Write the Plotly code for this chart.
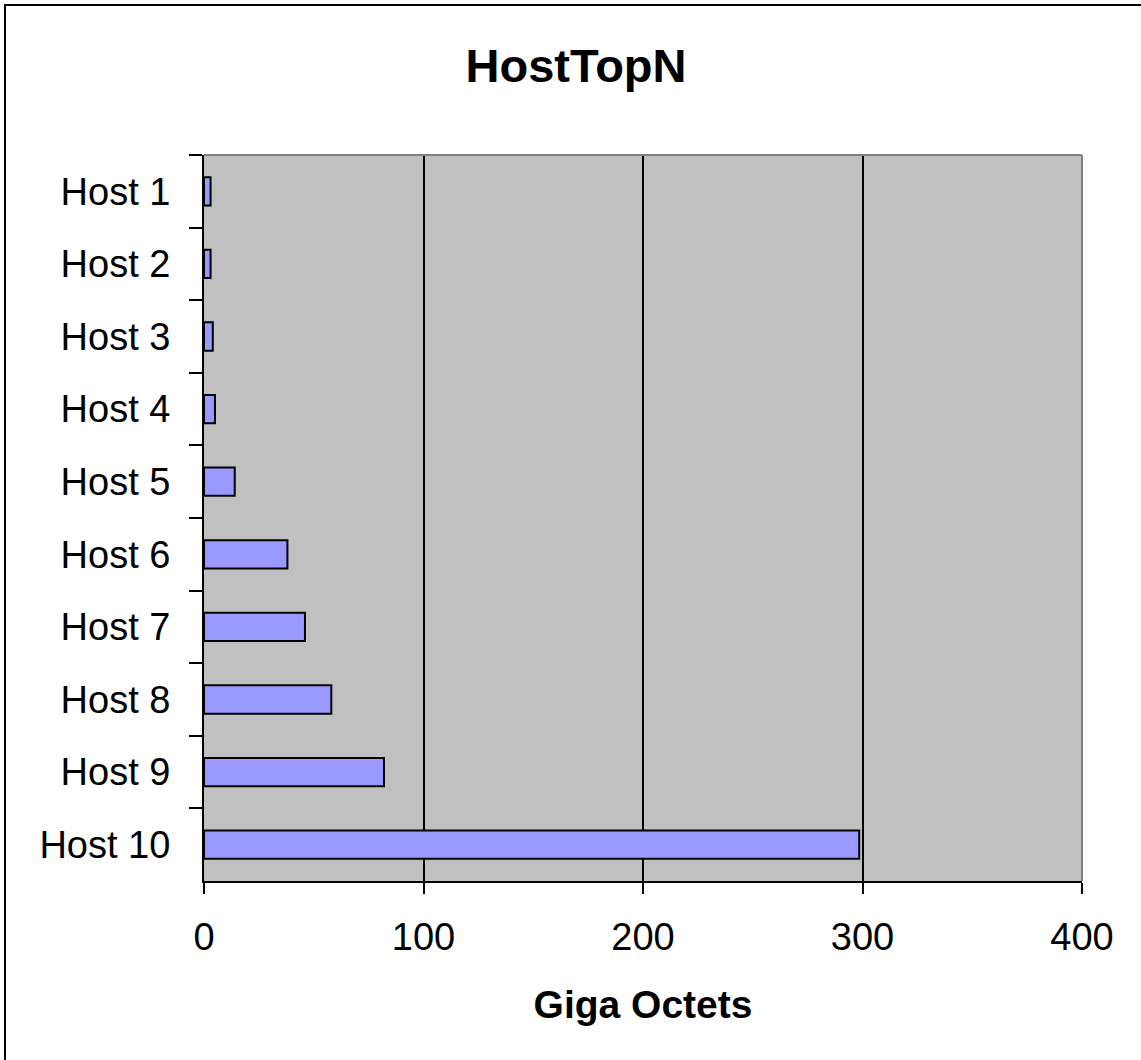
import plotly.graph_objects as go

hosts = ["Host 1", "Host 2", "Host 3", "Host 4", "Host 5",
         "Host 6", "Host 7", "Host 8", "Host 9", "Host 10"]
giga_octets = [3, 3, 4, 5, 14, 38, 46, 58, 82, 298.5]
x_ticks = [0, 100, 200, 300, 400]
chart_title = "HostTopN"
x_title = "Giga Octets"

W, H = 1141, 1060
L, R, T, B = 204, 59, 155, 179
pw, ph = W - L - R, H - T - B

fig = go.Figure(go.Bar(
    x=giga_octets, y=hosts, orientation="h", width=0.39,
    marker=dict(color="#9999FF", line=dict(color="black", width=2)),
    hoverinfo="x+y",
))

fig.update_layout(
    width=W, height=H,
    margin=dict(l=L, r=R, t=T, b=B, autoexpand=False),
    paper_bgcolor="white", plot_bgcolor="#C0C0C0",
    font=dict(family="Liberation Sans, Arial, sans-serif", color="black", size=38),
    title=dict(text="<b>" + chart_title + "</b>", font=dict(size=47),
               x=576 / W, xref="container", xanchor="center",
               y=1 - 66 / H, yref="container", yanchor="middle"),
    showlegend=False,
    shapes=[
        dict(type="line", xref="paper", yref="paper", x0=0, x1=1, y0=1, y1=1,
             line=dict(color="#808080", width=2), layer="above"),
        dict(type="line", xref="paper", yref="paper", x0=1, x1=1, y0=0, y1=1,
             line=dict(color="#808080", width=2), layer="above"),
        dict(type="rect", xref="paper", yref="paper",
             x0=(5 - L) / pw, x1=1.3, y0=-0.5, y1=(H - B - 5) / ph,
             line=dict(color="black", width=2), layer="above"),
    ],
)

fig.update_xaxes(
    range=[0, 400], tickvals=x_ticks, showgrid=True, gridcolor="black", gridwidth=2,
    showline=True, linecolor="black", linewidth=2, zeroline=False,
    ticks="outside", ticklen=11, tickwidth=2, tickcolor="black",
    ticklabelstandoff=10,
    title=dict(text="<b>" + x_title + "</b>", font=dict(size=39), standoff=34),
)
fig.update_yaxes(
    categoryorder="array", categoryarray=hosts, autorange="reversed",
    tickson="boundaries", ticks="outside", ticklen=13, tickwidth=2, tickcolor="black",
    showline=True, linecolor="black", linewidth=2, showgrid=False, zeroline=False,
    ticklabelstandoff=24,
)

fig.write_html("out.html", config={"displayModeBar": False},
               post_script="document.body.style.margin='0';")
